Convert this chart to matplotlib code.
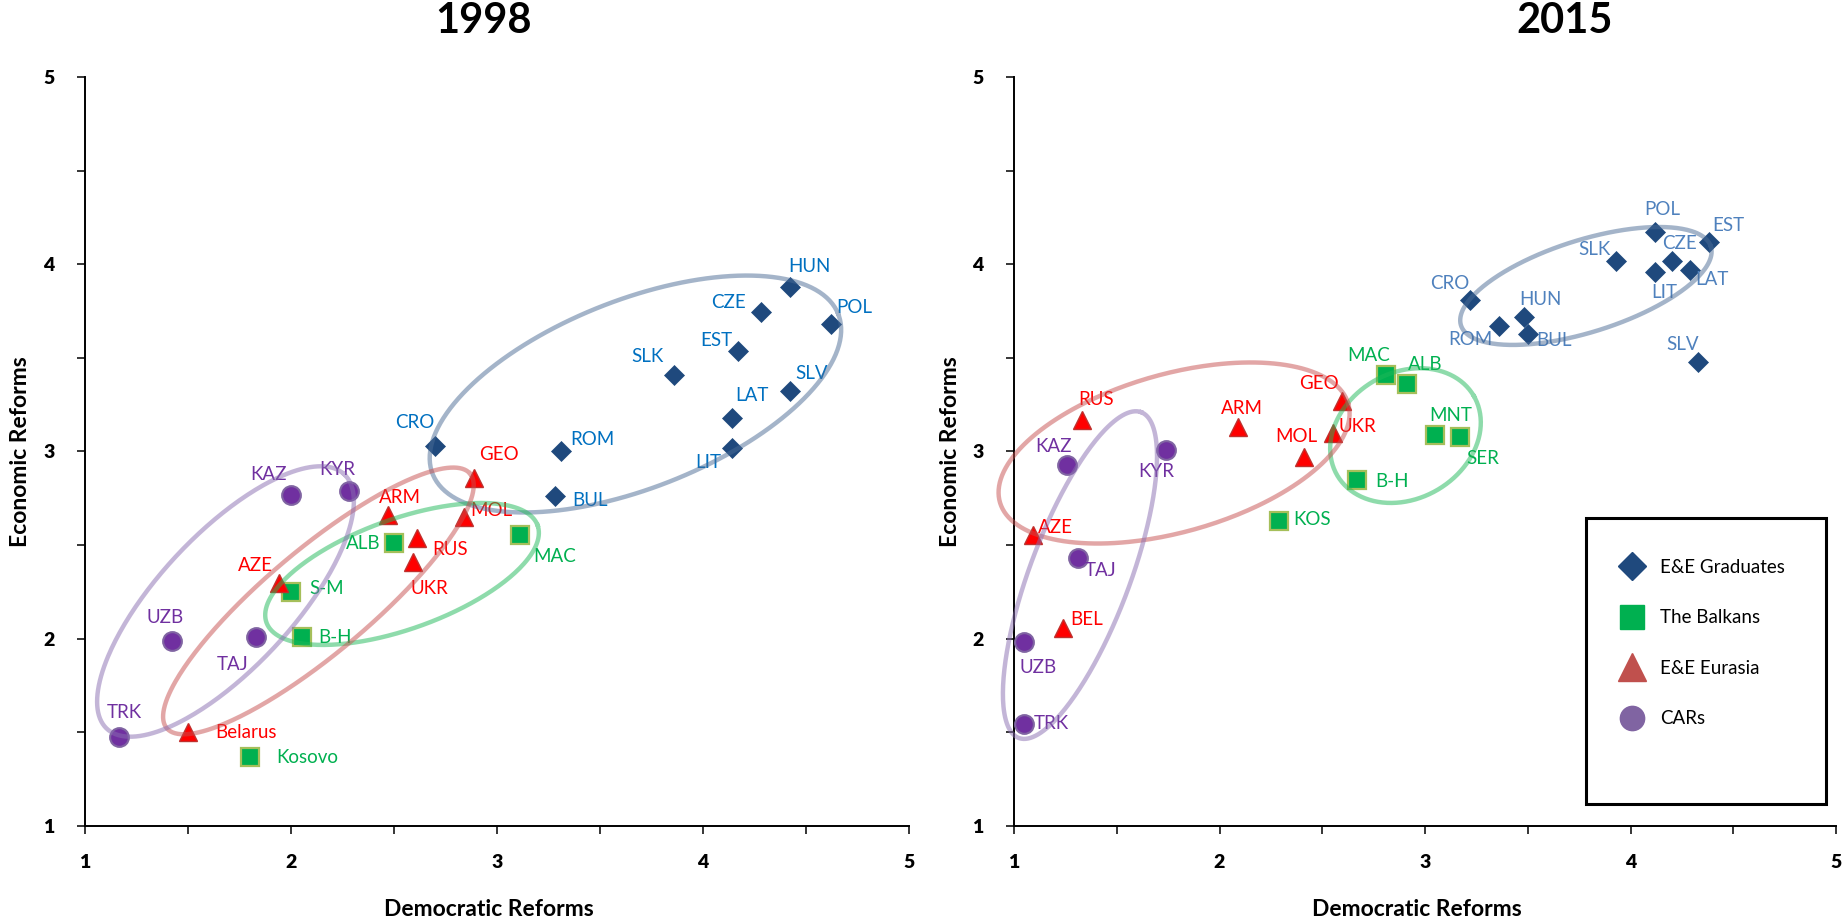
import numpy as np
import matplotlib
matplotlib.use("Agg")
from matplotlib import pyplot as plt
from matplotlib.lines import Line2D
from matplotlib.patches import Rectangle
from matplotlib.ticker import MultipleLocator

plt.rcParams['font.family'] = ['Lato', 'DejaVu Sans']
# tick labels are heavy in the original; other texts set their weight explicitly
plt.rcParams['font.weight'] = 'heavy'

# ---- 1998 ----
grad98_names = ['HUN', 'CZE', 'POL', 'EST', 'SLK', 'SLV', 'LAT', 'LIT', 'CRO', 'ROM', 'BUL']
grad98_dem = [4.42, 4.28, 4.62, 4.17, 3.86, 4.42, 4.14, 4.14, 2.70, 3.31, 3.28]
grad98_eco = [3.88, 3.745, 3.68, 3.535, 3.41, 3.325, 3.18, 3.02, 3.03, 3.00, 2.76]

balk98_names = ['ALB', 'MAC', 'S-M', 'B-H', 'Kosovo']
balk98_dem = [2.50, 3.11, 2.00, 2.055, 1.80]
balk98_eco = [2.51, 2.555, 2.25, 2.01, 1.37]

eur98_names = ['GEO', 'ARM', 'MOL', 'RUS', 'UKR', 'AZE', 'Belarus']
eur98_dem = [2.89, 2.47, 2.84, 2.61, 2.59, 1.94, 1.50]
eur98_eco = [2.86, 2.66, 2.65, 2.54, 2.41, 2.30, 1.50]

car98_names = ['KAZ', 'KYR', 'UZB', 'TAJ', 'TRK']
car98_dem = [2.00, 2.28, 1.42, 1.83, 1.165]
car98_eco = [2.77, 2.79, 1.99, 2.01, 1.475]

# ---- 2015 ----
grad15_names = ['POL', 'EST', 'CZE', 'LAT', 'LIT', 'SLK', 'CRO', 'HUN', 'ROM', 'BUL', 'SLV']
grad15_dem = [4.12, 4.38, 4.20, 4.29, 4.12, 3.93, 3.22, 3.48, 3.36, 3.50, 4.33]
grad15_eco = [4.17, 4.12, 4.02, 3.97, 3.96, 4.02, 3.81, 3.72, 3.67, 3.63, 3.48]

balk15_names = ['MAC', 'ALB', 'MNT', 'SER', 'B-H', 'KOS']
balk15_dem = [2.81, 2.91, 3.05, 3.17, 2.67, 2.29]
balk15_eco = [3.41, 3.36, 3.09, 3.08, 2.85, 2.63]

eur15_names = ['GEO', 'RUS', 'ARM', 'UKR', 'MOL', 'AZE', 'BEL']
eur15_dem = [2.595, 1.33, 2.09, 2.55, 2.41, 1.094, 1.24]
eur15_eco = [3.27, 3.17, 3.13, 3.10, 2.97, 2.554, 2.06]

car15_names = ['KAZ', 'KYR', 'TAJ', 'UZB', 'TRK']
car15_dem = [1.26, 1.74, 1.31, 1.05, 1.05]
car15_eco = [2.93, 3.01, 2.43, 1.98, 1.545]

ticks = [1, 2, 3, 4, 5]
tick_labels = ['1', '2', '3', '4', '5']
legend_labels = ['E&E Graduates', 'The Balkans', 'E&E Eurasia', 'CARs']

# label offsets in pixels (right, down)
offsets98 = {
    'HUN': (20, -20), 'CZE': (-32, -9), 'POL': (24, -17), 'EST': (-22, -11), 'SLK': (-27, -18),
    'SLV': (22, -17), 'LAT': (20, -22), 'LIT': (-24, 15), 'CRO': (-20, -23), 'ROM': (32, -12),
    'BUL': (35, 4), 'ALB': (-31, 0), 'MAC': (35, 22), 'S-M': (36, -3), 'B-H': (33, 1),
    'Kosovo': (57, 1), 'GEO': (25, -23), 'ARM': (12, -18), 'MOL': (27, -7), 'RUS': (33, 12),
    'UKR': (17, 27), 'AZE': (-23, -17), 'Belarus': (58, 0), 'KAZ': (-23, -20), 'KYR': (-11, -21),
    'UZB': (-6, -23), 'TAJ': (-23, 28), 'TRK': (5, -25),
}
offsets15 = {
    'POL': (7, -23), 'EST': (20, -16), 'CZE': (8, -17), 'LAT': (22, 10), 'LIT': (9, 21),
    'SLK': (-22, -11), 'CRO': (-20, -16), 'HUN': (17, -17), 'ROM': (-29, 13), 'BUL': (26, 7),
    'SLV': (-16, -17), 'MAC': (-17, -19), 'ALB': (19, -20), 'MNT': (15, -19), 'SER': (23, 22),
    'B-H': (35, 2), 'KOS': (33, -1), 'GEO': (-23, -17), 'RUS': (14, -20), 'ARM': (4, -19),
    'UKR': (25, -6), 'MOL': (-7, -21), 'AZE': (22, -8), 'BEL': (23, -8), 'KAZ': (-14, -18),
    'KYR': (-10, 22), 'TAJ': (23, 12), 'UZB': (14, 25), 'TRK': (27, 0),
}

# group rings: centre (data), semi-axes (px), angle (deg)
rings98 = [
    (3.672, 3.307, 218, 94, 21.5, '#4A6B95'),
    (2.539, 2.346, 144, 55, 19.7, '#1FB959'),
    (2.133, 2.202, 198, 52, 40.0, '#C74F4F'),
    (1.682, 2.199, 174, 67, 47.0, '#896DB1'),
]
rings15 = [
    (3.783, 3.884, 131, 46, 17.5, '#4A6B95'),
    (2.905, 3.085, 79, 63, 30.0, '#1FB959'),
    (1.779, 2.992, 181, 79, 15.75, '#C74F4F'),
    (1.321, 2.340, 174, 50, 69.4, '#896DB1'),
]

STYLE = {
    'grad': dict(marker='D', ms=10, color='#1F497D', mec='#1F497D', mew=0.5),
    'balk': dict(marker='s', ms=12.5, color='#00B050', mec='#A5BF5A', mew=1.6),
    'eur': dict(marker='^', ms=13.5, color='#FF0000', mec='#C0302D', mew=1.0),
    'car': dict(marker='o', ms=13.5, color='#7030A0', mec='#8064A2', mew=1.5),
}


def draw_ring(ax, cx, cy, a, b, ang, color):
    t = np.linspace(0, 2 * np.pi, 300)
    th = np.deg2rad(ang)
    dx = a * np.cos(t) * np.cos(th) - b * np.sin(t) * np.sin(th)
    dy = a * np.cos(t) * np.sin(th) + b * np.sin(t) * np.cos(th)
    px, py = ax.transData.transform((cx, cy))
    pts = ax.transData.inverted().transform(np.column_stack([px + dx, py + dy]))
    ax.plot(pts[:, 0], pts[:, 1], color=color, alpha=0.5, lw=3.2, zorder=5, clip_on=False)


def setup_axes(ax, title_x, title):
    ax.set_xlim(1, 5)
    ax.set_ylim(1, 5)
    for s in ('top', 'right'):
        ax.spines[s].set_visible(False)
    for s in ('left', 'bottom'):
        ax.spines[s].set_linewidth(1.4)
    ax.set_xticks(ticks, labels=tick_labels)
    ax.set_yticks(ticks, labels=tick_labels)
    ax.xaxis.set_minor_locator(MultipleLocator(0.5))
    ax.yaxis.set_minor_locator(MultipleLocator(0.5))
    ax.tick_params(which='both', direction='out', length=6, width=1.1, labelsize=14)
    ax.tick_params(axis='y', which='major', pad=16)
    ax.tick_params(axis='x', which='major', pad=14)
    ax.set_xlabel('Democratic Reforms', fontsize=16.5, fontweight='bold')
    ax.set_ylabel('Economic Reforms', fontsize=16.5, fontweight='bold')
    ax.yaxis.set_label_coords(-0.065, 0.5)
    ax.xaxis.set_label_coords(0.49, -0.097)
    fig.text(title_x, 1 - 21 / 922, title, fontsize=30, fontweight='bold', ha='center', va='center')


def plot_group(ax, xs, ys, names, style, label_color, offsets):
    ax.plot(xs, ys, ls='none', zorder=3, **STYLE[style])
    for x, y, n in zip(xs, ys, names):
        dx, dy = offsets[n]
        ax.annotate(n, (x, y), xytext=(dx, -dy), textcoords='offset pixels',
                    ha='center', va='center', color=label_color, fontsize=13.5,
                    fontweight='normal', zorder=4)


fig = plt.figure(figsize=(18.45, 9.22), dpi=100)
ax1 = fig.add_axes([85 / 1845, 96 / 922, 824 / 1845, 749 / 922])
ax2 = fig.add_axes([1014 / 1845, 96 / 922, 822 / 1845, 749 / 922])

setup_axes(ax1, 484 / 1845, '1998')
setup_axes(ax2, 1565 / 1845, '2015')

plot_group(ax1, grad98_dem, grad98_eco, grad98_names, 'grad', '#0070C0', offsets98)
plot_group(ax1, balk98_dem, balk98_eco, balk98_names, 'balk', '#00B050', offsets98)
plot_group(ax1, eur98_dem, eur98_eco, eur98_names, 'eur', '#FF0000', offsets98)
plot_group(ax1, car98_dem, car98_eco, car98_names, 'car', '#7030A0', offsets98)

plot_group(ax2, grad15_dem, grad15_eco, grad15_names, 'grad', '#4F81BD', offsets15)
plot_group(ax2, balk15_dem, balk15_eco, balk15_names, 'balk', '#00B050', offsets15)
plot_group(ax2, eur15_dem, eur15_eco, eur15_names, 'eur', '#FF0000', offsets15)
plot_group(ax2, car15_dem, car15_eco, car15_names, 'car', '#7030A0', offsets15)

for r in rings98:
    draw_ring(ax1, *r)
for r in rings15:
    draw_ring(ax2, *r)

# legend box
fig.add_artist(Rectangle((1586 / 1845, 1 - 804 / 922), 240 / 1845, 286 / 922,
                         transform=fig.transFigure, facecolor='white', edgecolor='black',
                         lw=2.2, zorder=10))
handles = [
    Line2D([], [], ls='none', marker='D', ms=14, color='#1F497D'),
    Line2D([], [], ls='none', marker='s', ms=17, color='#00B050'),
    Line2D([], [], ls='none', marker='^', ms=20, color='#C0504D'),
    Line2D([], [], ls='none', marker='o', ms=17.5, color='#8064A2'),
]
leg = fig.legend(handles, legend_labels, loc='upper left', bbox_to_anchor=(1623 / 1845, 1 - 559 / 922),
                 frameon=False, prop=dict(size=13.5, weight='normal'), handlelength=1.0,
                 handletextpad=1.0, labelspacing=1.78, borderpad=0, borderaxespad=0)
leg.set_zorder(11)

fig.savefig('out.png', dpi=100)
